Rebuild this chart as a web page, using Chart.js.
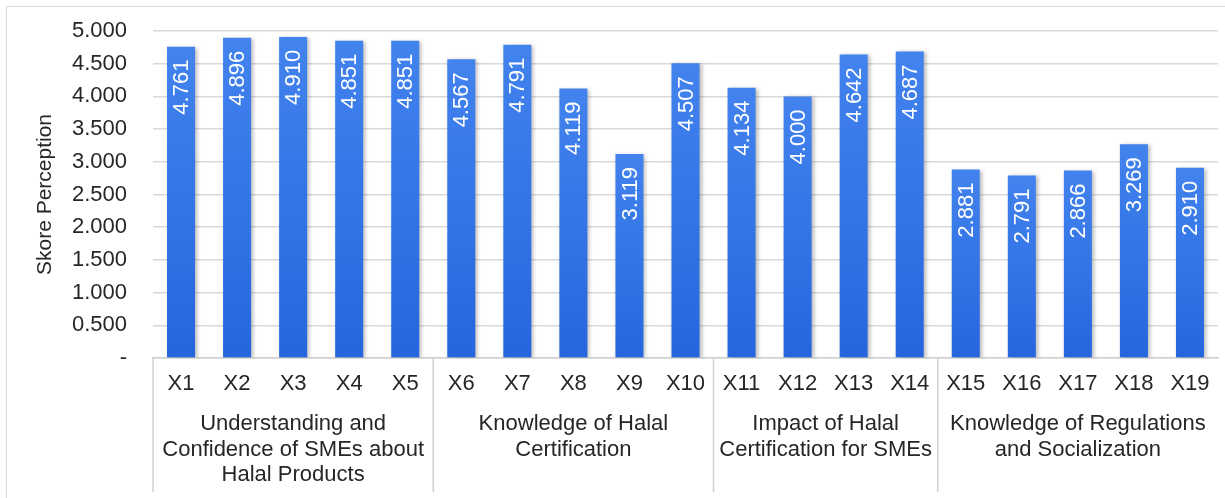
<!DOCTYPE html>
<html>
<head>
<meta charset="utf-8">
<script src="https://cdn.jsdelivr.net/npm/chart.js@4.4.1/dist/chart.umd.min.js"></script>
<style>
  html, body { margin: 0; padding: 0; background: #fff; }
  #wrap { position: relative; width: 1225px; height: 498px; overflow: hidden; }
  #frame { position: absolute; left: 6px; top: 6px; width: 1300px; height: 600px;
           border-left: 1.5px solid #d9d9d9; border-top: 1.5px solid #d9d9d9; }
  canvas { position: absolute; left: 0; top: 0; }
</style>
</head>
<body>
<div id="wrap">
  <div id="frame"></div>
  <canvas id="chart" width="1225" height="498"></canvas>
</div>
<script>
// data
const categories = ["X1", "X2", "X3", "X4", "X5", "X6", "X7", "X8", "X9", "X10",
  "X11", "X12", "X13", "X14", "X15", "X16", "X17", "X18", "X19"];
const scores = [4.761, 4.896, 4.910, 4.851, 4.851, 4.567, 4.791, 4.119, 3.119, 4.507,
  4.134, 4.000, 4.642, 4.687, 2.881, 2.791, 2.866, 3.269, 2.910];
const groupNames = [
  ["Understanding and", "Confidence of SMEs about", "Halal Products"],
  ["Knowledge of Halal", "Certification"],
  ["Impact of Halal", "Certification for SMEs"],
  ["Knowledge of Regulations", "and Socialization"]
];
const groupSizes = [5, 5, 4, 5];

const FONT = "'Liberation Sans', Arial, sans-serif";
const TEXT = "#262626";

// group captions + separator lines under the x axis
const groupPlugin = {
  id: "groups",
  afterDraw(chart) {
    const ctx = chart.ctx;
    const x = chart.scales.x;
    const bottom = chart.chartArea.bottom;
    const half = (x.getPixelForValue(1) - x.getPixelForValue(0)) / 2;
    ctx.save();
    ctx.strokeStyle = "#d0d0d0";
    ctx.lineWidth = 1.5;
    ctx.fillStyle = TEXT;
    ctx.font = "22px " + FONT;
    ctx.textAlign = "center";
    ctx.textBaseline = "middle";
    let start = 0;
    groupSizes.forEach((n, g) => {
      const left = x.getPixelForValue(start) - half;
      const right = x.getPixelForValue(start + n - 1) + half;
      ctx.beginPath();
      ctx.moveTo(left, bottom);
      ctx.lineTo(left, 492);
      ctx.stroke();
      groupNames[g].forEach((line, i) => {
        ctx.fillText(line, (left + right) / 2, 424 + i * 25.5);
      });
      start += n;
    });
    ctx.restore();
  }
};

// rotated value labels inside the bars
const valuePlugin = {
  id: "values",
  beforeDatasetsDraw(chart) {
    const ctx = chart.ctx;
    ctx.save();
    ctx.shadowColor = "rgba(0,0,0,0.28)";
    ctx.shadowBlur = 4;
    ctx.shadowOffsetX = 2;
    ctx.shadowOffsetY = 1;
  },
  afterDatasetsDraw(chart) {
    const ctx = chart.ctx;
    ctx.restore();
    const meta = chart.getDatasetMeta(0);
    ctx.save();
    ctx.fillStyle = "#ffffff";
    ctx.font = "22px " + FONT;
    ctx.textAlign = "right";
    ctx.textBaseline = "middle";
    meta.data.forEach((bar, i) => {
      ctx.save();
      ctx.translate(bar.x + 1, bar.y + 13);
      ctx.rotate(-Math.PI / 2);
      ctx.fillText(scores[i].toFixed(3), 0, 0);
      ctx.restore();
    });
    ctx.restore();
  }
};

new Chart(document.getElementById("chart"), {
  type: "bar",
  data: {
    labels: categories,
    datasets: [{
      data: scores,
      backgroundColor(c) {
        const area = c.chart.chartArea;
        if (!area || !c.chart.scales.y) return "#3a7de9";
        const top = c.chart.scales.y.getPixelForValue(c.raw);
        const grad = c.chart.ctx.createLinearGradient(0, top, 0, area.bottom);
        grad.addColorStop(0, "#4283ee");
        grad.addColorStop(1, "#2566df");
        return grad;
      },
      borderWidth: 0,
      categoryPercentage: 1,
      barPercentage: 0.5
    }]
  },
  options: {
    responsive: false,
    animation: false,
    devicePixelRatio: 1,
    layout: { padding: { top: 31, right: 7, left: 0, bottom: 0 } },
    plugins: { legend: { display: false }, tooltip: { enabled: false } },
    scales: {
      x: {
        afterFit(s) { s.height = 140; },
        grid: { display: false, drawTicks: false },
        border: { display: true, color: "#d0d0d0", width: 1.5 },
        ticks: { color: TEXT, font: { family: FONT, size: 22 }, padding: 13, maxRotation: 0, autoSkip: false }
      },
      y: {
        min: 0,
        max: 5,
        afterFit(s) {
          s.width = 153;
          s.paddingTop = 0;
          s.paddingBottom = 0;
        },
        grid: { color: "#d9d9d9", lineWidth: 1.5, drawTicks: false },
        border: { display: false },
        ticks: {
          stepSize: 0.5,
          padding: 26,
          color: TEXT,
          font: { family: FONT, size: 22 },
          callback: v => v === 0 ? "-" : v.toFixed(3)
        },
        title: {
          display: true,
          text: "Skore Perception",
          color: TEXT,
          font: { family: FONT, size: 21 },
          padding: { top: 33, bottom: 0 }
        }
      }
    }
  },
  plugins: [groupPlugin, valuePlugin]
});
</script>
</body>
</html>
